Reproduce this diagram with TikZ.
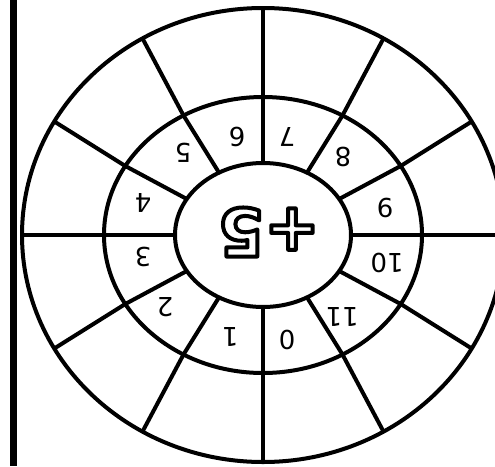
\documentclass[tikz,border=0pt]{standalone}
\usepackage{fontspec}
\setsansfont{DejaVu Sans}

\begin{document}
\begin{tikzpicture}[x=1pt, y=-1pt,
  every node/.style={font=\sffamily},
  ring/.style={line width=4pt},
  num/.style={font=\sffamily\fontsize{26}{26}\selectfont, rotate=180, inner sep=0pt},
]

\useasboundingbox (0,0) rectangle (495,466);
\clip (0,0) rectangle (495,466);

% left margin bar
\fill[black] (10,0) rectangle (17,466);

\coordinate (c) at (263,235);

% the three rings
\draw[ring] (c) ellipse [x radius=241pt, y radius=227pt];
\draw[ring] (c) ellipse [x radius=159pt, y radius=138pt];
\draw[ring, fill=white] (c) ellipse [x radius=88pt, y radius=72pt];

% spokes
\foreach \a in {0,30,...,330}
  \draw[ring] ([shift={(\a:88pt and 72pt)}]c) -- ([shift={(\a:159pt and 138pt)}]c) -- ([shift={(\a:241pt and 227pt)}]c);

% numbers in the middle ring
\foreach \n/\x/\y in {0/287/340, 1/230/337, 2/165/307, 3/143/257, 4/143/203, 5/183/153,
                      6/237/137, 7/287/137, 8/343/157, 9/385/208, 10/387/263, 11/342/317}
  \node[num] (n\n) at (\x,\y) {\n};

% centre, outlined figures (white fill, black stroke)
\node[rotate=180, inner sep=0pt] (sum) at (269,232)
  {\sffamily\bfseries\fontsize{66}{66}\selectfont\special{pdf:literal direct 2 Tr 4 w 1 J 1 j 1 g 0 G}+5\special{pdf:literal direct 0 Tr 0 g 0 G}};

\end{tikzpicture}
\end{document}
